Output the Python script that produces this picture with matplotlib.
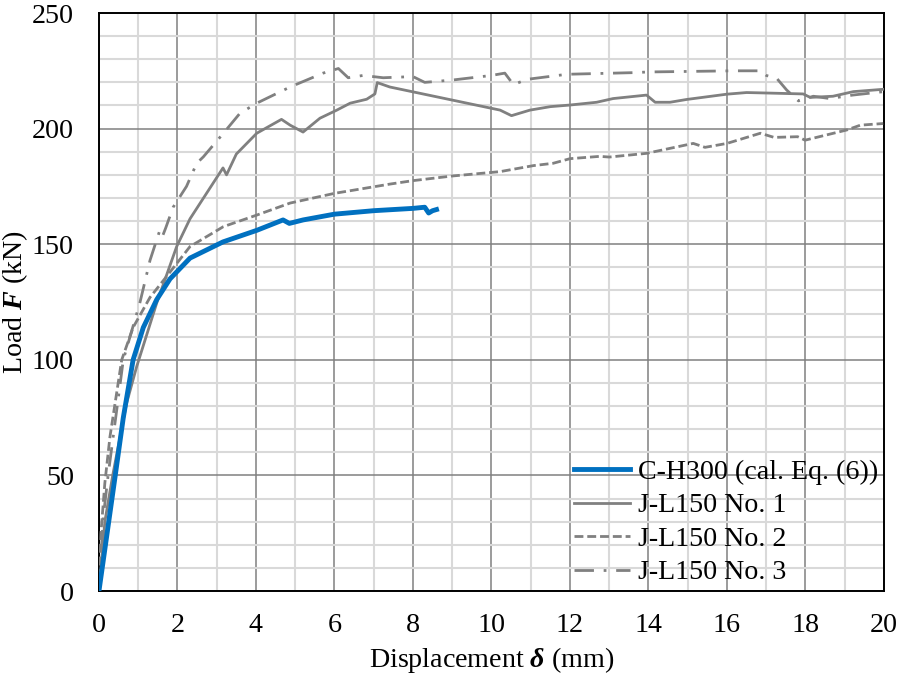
import matplotlib
matplotlib.use("Agg")
import matplotlib.pyplot as plt
from matplotlib.ticker import MultipleLocator

plt.rcParams['font.family'] = ['Liberation Serif', 'DejaVu Serif']
plt.rcParams['mathtext.fontset'] = 'custom'
plt.rcParams['mathtext.it'] = 'Liberation Serif:italic:bold'
plt.rcParams['mathtext.rm'] = 'Liberation Serif'

# C-H300 (cal. Eq. (6))
ch_x = [0, 0.41, 0.62, 0.87, 1.13, 1.47, 1.81, 2.32, 3.16, 4.02, 4.69, 4.85, 5.2, 6.0, 7.0, 8.0, 8.3, 8.4, 8.5, 8.6]
ch_y = [0, 49.4, 75, 100, 114, 126, 135, 144, 151, 156, 160.5, 159, 160.5, 163, 164.5, 165.5, 166, 163.5, 164.5, 165]

# J-L150 No. 1
n1_x = [0, 0.15, 0.35, 0.7, 0.96, 1.47, 1.98, 2.32, 2.74, 3.16, 3.25, 3.5, 4.02, 4.65, 4.87, 5.2, 5.63, 6.06, 6.4, 6.82,
        7.03, 7.09, 7.41, 10.22, 10.51, 10.98, 11.5, 12.0, 12.68, 13.1, 13.95, 14.17, 14.55, 14.97, 16.0, 16.5, 17.0,
        17.94, 18.12, 18.7, 19.22, 19.98]
n1_y = [0, 30, 50, 81, 97, 124.5, 149, 161, 172, 183, 180, 189, 198, 204, 201.5, 198.5, 204.5, 208, 211, 212.7,
        215, 219.9, 218, 208, 205.6, 208, 209.5, 210.2, 211.4, 213, 214.5, 211.4, 211.4, 212.6, 214.9, 215.6, 215.4,
        215, 213.5, 214, 216, 217]

# J-L150 No. 2
n2_x = [0, 0.05, 0.15, 0.28, 0.58, 0.87, 1.3, 1.72, 2.32, 3.17, 4.02, 4.87, 6.0, 7.41, 8.0, 9.0, 10.22, 11.07, 11.57,
        12.0, 12.76, 13.0, 13.95, 15.14, 15.44, 16.0, 16.85, 17.2, 17.8, 17.99, 19.05, 19.4, 19.98]
n2_y = [0, 25, 46.7, 66.7, 100, 114, 127, 136, 149, 157.6, 162.6, 167.8, 172, 176, 177.5, 179.5, 181.4, 184, 185,
        187, 188, 187.7, 189.3, 193.6, 191.9, 193.6, 198, 196.2, 196.5, 195, 199.4, 201.5, 202.2]

# J-L150 No. 3
n3_x = [0, 0.11, 0.24, 0.45, 0.62, 1.04, 1.3, 1.55, 1.62, 1.7, 1.89, 2.23, 2.49, 2.66, 3.17, 3.59, 4.02, 4.87, 5.71,
        6.1, 6.35, 6.73, 7.24, 8.0, 8.3, 9.0, 10.0, 10.34, 10.56, 10.9, 11.92, 13.6, 14.0, 16.16, 16.85, 17.0, 17.27,
        17.52, 17.82, 18.2, 18.62, 19.2, 20.0]
n3_y = [0, 32, 51, 78, 100, 124.5, 143, 156, 153.5, 157, 166, 175, 185, 187.8, 198, 206.6, 211, 218, 224,
        226, 222, 223, 222, 222.5, 220, 221, 223, 224, 219, 221.3, 223.5, 224.2, 224.5, 225, 225, 223, 221.7,
        216.7, 212, 214, 213, 214.5, 216]

FS = 20.2
fig = plt.figure(figsize=(8.98, 6.74), dpi=100)
ax = fig.add_axes([0.1102, 0.1231, 0.8742, 0.8576])

gray = '#808080'
ax.plot(ch_x, ch_y, color='#0070c0', lw=3.5, label='C-H300 (cal. Eq. (6))', zorder=5)
ax.plot(n1_x, n1_y, color=gray, lw=2.0, label='J-L150 No. 1', zorder=4)
ax.plot(n2_x, n2_y, color=gray, lw=2.0, linestyle=(0, (3.2, 1.4)), label='J-L150 No. 2', zorder=4)
ax.plot(n3_x, n3_y, color=gray, lw=2.0, linestyle=(0, (7, 3.5, 1, 3.5)), label='J-L150 No. 3', zorder=4)

ax.set_xlim(0, 20)
ax.set_ylim(0, 250)
ax.xaxis.set_major_locator(MultipleLocator(2))
ax.xaxis.set_minor_locator(MultipleLocator(1))
ax.yaxis.set_major_locator(MultipleLocator(50))
ax.yaxis.set_minor_locator(MultipleLocator(10))
ax.grid(which='minor', color='#d9d9d9', lw=1.5, zorder=0)
ax.grid(which='major', color='#808080', lw=1.1, zorder=1)
ax.set_axisbelow(True)
ax.tick_params(which='both', length=0, labelsize=FS)
ax.tick_params(axis='x', pad=16)
ax.tick_params(axis='y', pad=18)
for s in ax.spines.values():
    s.set_color('black')
    s.set_linewidth(1.4)

ax.set_xlabel(r'Displacement $\delta$ (mm)', fontsize=FS, labelpad=5)
ax.set_ylabel(r'Load $F$ (kN)', fontsize=FS)
ax.yaxis.set_label_coords(-0.088, 0.5)

leg = ax.legend(loc='lower right', frameon=False, fontsize=FS, handlelength=2.0,
                handletextpad=0.3, labelspacing=0.28, borderaxespad=0.0, borderpad=0.2)

fig.savefig('out.png', dpi=100)
